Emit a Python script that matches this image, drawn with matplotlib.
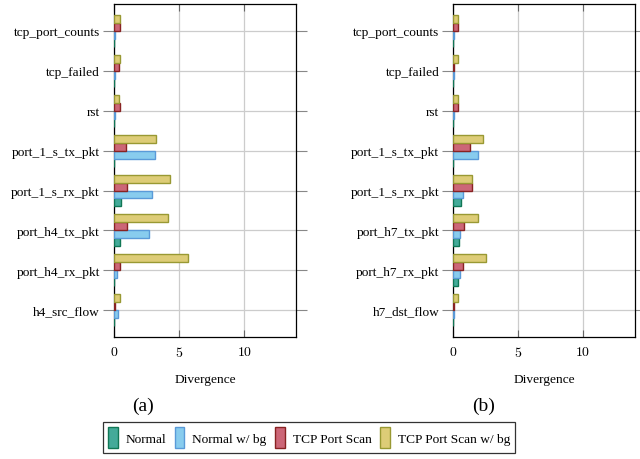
import numpy as np
import matplotlib
matplotlib.use("Agg")
import matplotlib.pyplot as plt
from matplotlib.patches import Patch

plt.rcParams['font.family'] = ['Liberation Serif', 'DejaVu Serif']
plt.rcParams['mathtext.fontset'] = 'cm'

# categories, top to bottom
cats_a = ['tcp_port_counts', 'tcp_failed', 'rst', 'port_1_s_tx_pkt',
          'port_1_s_rx_pkt', 'port_h4_tx_pkt', 'port_h4_rx_pkt', 'h4_src_flow']
cats_b = ['tcp_port_counts', 'tcp_failed', 'rst', 'port_1_s_tx_pkt',
          'port_1_s_rx_pkt', 'port_h7_tx_pkt', 'port_h7_rx_pkt', 'h7_dst_flow']

series = ['Normal', 'Normal w/ bg', 'TCP Port Scan', 'TCP Port Scan w/ bg']

# divergence values, same order as categories
normal_a = [0.02, 0.02, 0.02, 0.02, 0.53, 0.48, 0.03, 0.03]
normal_bg_a = [0.05, 0.05, 0.05, 3.13, 2.95, 2.72, 0.23, 0.28]
scan_a = [0.45, 0.42, 0.45, 0.89, 0.97, 1.02, 0.48, 0.05]
scan_bg_a = [0.46, 0.45, 0.42, 3.23, 4.30, 4.15, 5.70, 0.48]

normal_b = [0.02, 0.02, 0.01, 0.02, 0.59, 0.48, 0.41, 0.02]
normal_bg_b = [0.05, 0.03, 0.03, 1.95, 0.74, 0.56, 0.51, 0.10]
scan_b = [0.41, 0.03, 0.41, 1.28, 1.43, 0.87, 0.79, 0.03]
scan_bg_b = [0.41, 0.41, 0.41, 2.33, 1.43, 1.90, 2.56, 0.41]

faces = ['#44AA99', '#88CCEE', '#CC6677', '#DDCC77']
edges = ['#117755', '#5A9AD8', '#882222', '#999933']


def draw(ax, cats, data):
    n = len(cats)
    y = np.arange(n)[::-1]
    h = 0.2
    offsets = [-1.5 * h, -0.5 * h, 0.5 * h, 1.5 * h]
    for vals, off, fc, ec in zip(data, offsets, faces, edges):
        ax.barh(y + off, vals, height=h, color=fc, edgecolor=ec,
                linewidth=1.0, zorder=3)
    ax.set_xlim(0, 14)
    ax.set_ylim(-0.675, n - 1 + 0.675)
    ax.set_yticks(y)
    ax.set_yticklabels(cats, fontsize=9.6)
    ax.set_xticks([0, 5, 10])
    ax.set_xticklabels(['$0$', '$5$', '$10$'], fontsize=10)
    ax.tick_params(axis='y', direction='out', length=8, color='#888888',
                   left=True, right=True, pad=2)
    ax.tick_params(axis='x', direction='in', length=5, color='#666666',
                   top=True, bottom=True, pad=6)
    ax.grid(True, color='#cccccc', linewidth=0.9, zorder=0)
    ax.set_axisbelow(True)
    for s in ax.spines.values():
        s.set_color('black')
        s.set_linewidth(0.9)
    ax.set_xlabel('Divergence', fontsize=9.6, labelpad=10)


fig = plt.figure(figsize=(6.4, 4.6), dpi=100)
ax1 = fig.add_axes([0.178, 0.265, 0.285, 0.724])
ax2 = fig.add_axes([0.708, 0.265, 0.284, 0.724])

draw(ax1, cats_a, [normal_a, normal_bg_a, scan_a, scan_bg_a])
draw(ax2, cats_b, [normal_b, normal_bg_b, scan_b, scan_bg_b])

fig.text(0.224, 0.117, '(a)', fontsize=14, ha='center', va='center')
fig.text(0.755, 0.117, '(b)', fontsize=14, ha='center', va='center')

handles = [Patch(facecolor=fc, edgecolor=ec, linewidth=1.0)
           for fc, ec in zip(faces, edges)]
leg = fig.legend(handles, series, loc='center', bbox_to_anchor=(0.483, 0.047),
                 ncol=4, fontsize=9.6, frameon=True, fancybox=False,
                 handlelength=0.7, handleheight=2.0, handletextpad=0.6,
                 columnspacing=0.65, borderpad=0.4)
leg.get_frame().set_edgecolor('black')
leg.get_frame().set_linewidth(0.9)

fig.savefig('out.png', dpi=100)
